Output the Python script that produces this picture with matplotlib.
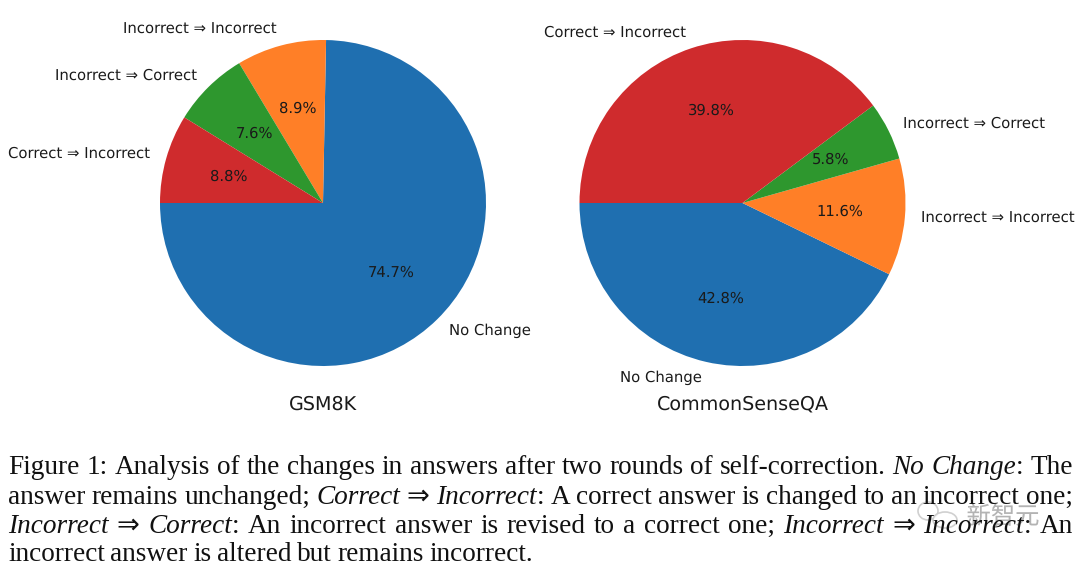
import matplotlib
matplotlib.use("Agg")
import matplotlib.pyplot as plt
import matplotlib.patheffects as pe
from matplotlib.patches import Ellipse

plt.rcParams["text.hinting"] = "no_hinting"

W, H = 1080, 565
labels = ["No Change", "Incorrect ⇒ Incorrect", "Incorrect ⇒ Correct", "Correct ⇒ Incorrect"]
gsm8k = [74.7, 8.9, 7.6, 8.8]
csqa = [42.8, 11.6, 5.8, 39.8]
titles = ["GSM8K", "CommonSenseQA"]
colors = ["#1f6fb0", "#ff7f27", "#2e972e", "#cf2b2d"]
caption = [
    [("Figure 1:  Analysis of the changes in answers after two rounds of self-correction.", "normal"), ("No Change", "italic"), (":  The", "normal")],
    [("answer remains unchanged;", "normal"), ("Correct ⇒ Incorrect", "italic"), (":  A correct answer is changed to an incorrect one;", "normal")],
    [("Incorrect ⇒ Correct", "italic"), (":  An incorrect answer is revised to a correct one;", "normal"), ("Incorrect ⇒ Incorrect", "italic"), (":  An", "normal")],
    [("incorrect answer is altered but remains incorrect.", "normal")],
]
justified = [True, True, True, False]
baselines = [474, 504, 533, 561]

fig = plt.figure(figsize=(W / 100, H / 100), dpi=100, facecolor="white")
for cx, vals, title in zip((323, 742.5), (gsm8k, csqa), titles):
    r = 163
    ax = fig.add_axes([(cx - r) / W, 1 - (203 + r) / H, 2 * r / W, 2 * r / H])
    wedges, texts, autos = ax.pie(vals, labels=labels, colors=colors, startangle=180,
                                  autopct="%1.1f%%", radius=1, labeldistance=1.1, pctdistance=0.6,
                                  textprops={"fontsize": 10.7, "color": "#1a1a1a"})
    for a in autos:
        a.set_fontsize(10.6)
    ax.set_xlim(-1, 1); ax.set_ylim(-1, 1)
    fig.text(cx / W, 1 - 404 / H, title, ha="center", va="center", fontsize=13.8, color="#1a1a1a")

renderer = fig.canvas.get_renderer()
FS = 19.6
FAM = ["Liberation Serif", "DejaVu Sans"]

def hinted(t):
    # steady baselines for word-by-word justified caption text
    orig = t.draw
    def draw(r, *a, **k):
        with plt.rc_context({"text.hinting": "force_autohint"}):
            return orig(r, *a, **k)
    t.draw = draw

def draw_line(parts, y, just):
    items = []
    for text, style in parts:
        for w in text.split(" "):
            if w:
                items.append((w, style))
    ts = [fig.text(0, 1 - y / H, w, fontsize=FS, style=s, family=FAM, color="#111111", va="baseline") for w, s in items]
    with plt.rc_context({"text.hinting": "force_autohint"}):
        widths = [t.get_window_extent(renderer).width for t in ts]
    total = sum(widths)
    glue = [not w.startswith(":") for w, _ in items[1:]]
    gap = (1073 - 8 - total) / sum(glue) if just else 5.6
    x = 8
    for i, (t, w) in enumerate(zip(ts, widths)):
        t.set_x(x / W)
        hinted(t)
        x += w
        if i < len(glue) and glue[i]:
            x += gap
for parts, y, j in zip(caption, baselines, justified):
    draw_line(parts, y, j)

# watermark
ov = fig.add_axes([0, 0, 1, 1], facecolor="none")
ov.set_xlim(0, W); ov.set_ylim(H, 0); ov.axis("off")
ov.add_patch(Ellipse((928, 511), 20, 18, fc="white", ec="#c8c8c8", lw=1.2, alpha=0.85))
ov.add_patch(Ellipse((945, 520), 24, 16, fc="white", ec="#c8c8c8", lw=1.2, alpha=0.85))
ov.text(1003, 517, "新智元", ha="center", va="center", fontsize=17.5, family=["Noto Sans CJK SC"],
        color="#b0b0b0", alpha=0.95,
        path_effects=[pe.withStroke(linewidth=3, foreground="white", alpha=0.6)])
fig.savefig("out.png", dpi=100, facecolor="white")
